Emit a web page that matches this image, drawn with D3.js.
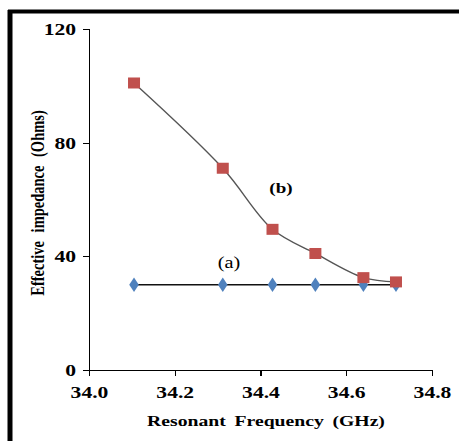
<!DOCTYPE html>
<html>
<head>
<meta charset="utf-8">
<title>Effective impedance</title>
<script src="https://d3js.org/d3.v7.min.js"></script>
<style>
  body { margin: 0; background: #fff; }
  .axis path, .axis line { stroke: #000; stroke-width: 1.2; shape-rendering: crispEdges; }
  .axis text { font-family: "Liberation Serif", serif; font-weight: bold; font-size: 17px; fill: #000; }
  .lbl { font-family: "Liberation Serif", serif; fill: #000; }
</style>
</head>
<body>
<div id="chart"></div>
<script>
// data
var freqA = [34.105, 34.312, 34.428, 34.528, 34.64, 34.716];
var impA  = [30, 30, 30, 30, 30, 30];
var freqB = [34.105, 34.312, 34.428, 34.528, 34.64, 34.716];
var impB  = [101, 71, 49.5, 41, 32.5, 31];
var xTicks = [34.0, 34.2, 34.4, 34.6, 34.8];
var yTicks = [0, 40, 80, 120];

var W = 459, H = 441;
var sx = 1.27; // the picture is stretched sideways
var svg = d3.select("#chart").append("svg")
    .attr("width", W).attr("height", H);

// frame (only top and left edges show)
svg.append("line").attr("x1", 8).attr("x2", W).attr("y1", 11.5).attr("y2", 11.5)
    .attr("stroke", "#000").attr("stroke-width", 4);
svg.append("line").attr("x1", 10).attr("x2", 10).attr("y1", 10).attr("y2", H)
    .attr("stroke", "#000").attr("stroke-width", 5);

var x = d3.scaleLinear().domain([34.0, 34.8]).range([89, 432]);
var y = d3.scaleLinear().domain([0, 120]).range([370, 29]);

var gx = svg.append("g").attr("class", "axis")
    .attr("transform", "translate(0,370)")
    .call(d3.axisBottom(x).tickValues(xTicks).tickSizeOuter(0).tickSize(6).tickPadding(10)
      .tickFormat(d3.format(".1f")));
gx.selectAll("text").attr("transform", "scale(" + sx + ",1)");

var gy = svg.append("g").attr("class", "axis")
    .attr("transform", "translate(89,0)")
    .call(d3.axisLeft(y).tickValues(yTicks).tickSizeOuter(0).tickSize(6).tickPadding(13));
gy.selectAll("text").attr("x", -13 / sx).attr("transform", "scale(" + sx + ",1)");

var dataA = freqA.map(function(f, i) { return [f, impA[i]]; });
var dataB = freqB.map(function(f, i) { return [f, impB[i]]; });

// series a: straight line
svg.append("path").datum(dataA)
    .attr("d", d3.line().x(function(d) { return x(d[0]); }).y(function(d) { return y(d[1]); }))
    .attr("fill", "none").attr("stroke", "#111").attr("stroke-width", 1.4);

// series b: smoothed line
svg.append("path").datum(dataB)
    .attr("d", d3.line().curve(d3.curveCatmullRom.alpha(0.5))
      .x(function(d) { return x(d[0]); }).y(function(d) { return y(d[1]); }))
    .attr("fill", "none").attr("stroke", "#555").attr("stroke-width", 1.4);

svg.selectAll(".dia").data(dataA).enter().append("path")
    .attr("class", "dia")
    .attr("d", d3.symbol().type(d3.symbolDiamond).size(60))
    .attr("transform", function(d) { return "translate(" + x(d[0]) + "," + y(d[1]) + ") scale(1.15,1)"; })
    .attr("fill", "#4f81bd");

svg.selectAll(".sq").data(dataB).enter().append("rect")
    .attr("class", "sq")
    .attr("x", function(d) { return x(d[0]) - 6; })
    .attr("y", function(d) { return y(d[1]) - 5.5; })
    .attr("width", 12).attr("height", 11)
    .attr("fill", "#c0504d");

function label(px, py, txt, size, bold, rot) {
  var g = svg.append("g")
      .attr("transform", "translate(" + px + "," + py + ") scale(" + sx + ",1)" + (rot ? " rotate(-90)" : ""));
  return g.append("text").attr("class", "lbl").attr("text-anchor", "middle")
      .style("font-size", size + "px").style("font-weight", bold ? "bold" : "normal")
      .text(txt);
}

label(281, 193, "(b)", 15, true);
label(229, 268, "(a)", 16, false);
label(266, 426, "Resonant Frequency (GHz)", 15.5, true).style("word-spacing", "3px");
label(44, 203, "Effective impedance (Ohms)", 14.5, true, true).style("word-spacing", "5px");
</script>
</body>
</html>
